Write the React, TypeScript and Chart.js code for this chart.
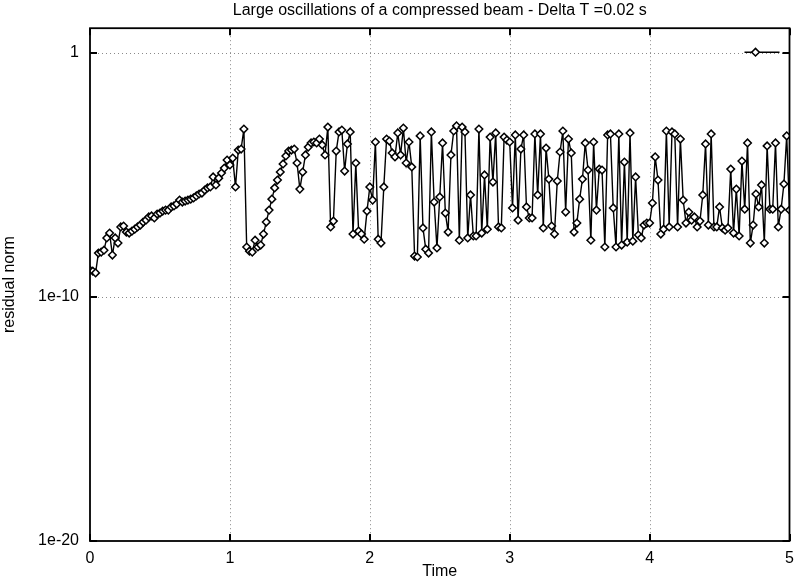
import React, { useEffect, useRef } from "react";
import { Chart, registerables } from "chart.js";

Chart.register(...registerables);

const chartTitle = "Large oscillations of a compressed beam - Delta T =0.02 s";
const xAxisTitle = "Time";
const yAxisTitle = "residual norm";
const deltaT = 0.02;
const xTickValues = [0, 1, 2, 3, 4, 5];
const yTickValues = [1e-20, 1e-10, 1];
const yTickLabels = ["1e-20", "1e-10", "1"];

// log10 of the residual norm at each time step (t = i * deltaT)
const logResidual = [
  -8.91, -8.95, -9.02, -8.21, -8.17, -8.09, -7.59, -7.39, -8.29, -7.59,
  -7.80, -7.14, -7.10, -7.35, -7.39, -7.31, -7.23, -7.14, -7.06, -6.94,
  -6.86, -6.73, -6.69, -6.77, -6.61, -6.57, -6.49, -6.45, -6.45, -6.32,
  -6.28, -6.20, -6.04, -6.12, -6.08, -6.04, -6.00, -5.95, -5.87, -5.79,
  -5.75, -5.63, -5.54, -5.50, -5.09, -5.42, -5.14, -4.93, -4.73, -4.40,
  -4.60, -4.32, -5.50, -3.99, -3.95, -3.13, -7.96, -8.13, -8.17, -7.68,
  -7.96, -7.88, -7.43, -6.94, -6.45, -6.00, -5.54, -5.22, -4.89, -4.56,
  -4.23, -4.03, -3.99, -3.95, -4.52, -5.59, -4.89, -4.19, -3.87, -3.70,
  -3.66, -3.70, -3.54, -3.78, -4.19, -3.05, -7.14, -6.90, -4.03, -3.25,
  -3.17, -4.85, -3.74, -3.25, -7.43, -4.52, -7.31, -7.43, -7.64, -6.49,
  -5.50, -6.04, -3.66, -7.64, -7.80, -5.50, -3.54, -3.62, -4.11, -4.27,
  -3.29, -4.19, -3.09, -4.52, -3.66, -4.68, -8.33, -8.37, -3.41, -7.18,
  -8.05, -8.21, -3.25, -6.12, -8.00, -5.91, -3.70, -6.57, -7.35, -4.19,
  -3.21, -3.00, -7.68, -3.05, -3.25, -7.59, -5.83, -7.51, -7.51, -3.13,
  -7.39, -5.01, -7.23, -3.46, -5.30, -3.29, -7.14, -7.18, -3.46, -3.58,
  -3.66, -6.36, -3.37, -6.86, -3.95, -3.37, -6.32, -6.77, -6.77, -3.33,
  -5.83, -3.33, -7.18, -3.91, -5.18, -7.10, -7.43, -5.26, -4.07, -3.21,
  -6.53, -3.54, -4.11, -7.35, -6.98, -6.00, -5.18, -3.70, -4.81, -7.68,
  -3.66, -6.45, -4.77, -4.81, -7.96, -3.37, -3.33, -6.36, -7.96, -3.33,
  -7.88, -4.48, -7.76, -3.29, -7.72, -5.09, -7.47, -7.59, -7.06, -6.98,
  -6.98, -6.16, -4.27, -5.22, -7.43, -7.23, -3.21, -7.14, -3.25, -3.33,
  -7.14, -3.54, -6.04, -6.98, -6.53, -6.86, -6.73, -7.14, -6.90, -5.83,
  -3.74, -7.06, -3.33, -7.14, -7.14, -6.32, -7.18, -7.27, -7.18, -4.77,
  -7.39, -5.59, -7.51, -4.44, -6.41, -3.70, -7.80, -7.06, -5.79, -6.32,
  -5.42, -7.80, -3.82, -6.41, -6.41, -3.70, -7.14, -6.41, -5.38, -3.41,
  -6.45,
];

const FONT = "'Liberation Sans', Arial, Helvetica, sans-serif";

function drawDiamond(ctx: CanvasRenderingContext2D, x: number, y: number, r: number) {
  ctx.beginPath();
  ctx.moveTo(x, y - r);
  ctx.lineTo(x + r, y);
  ctx.lineTo(x, y + r);
  ctx.lineTo(x - r, y);
  ctx.closePath();
  ctx.fillStyle = "#fff";
  ctx.fill();
  ctx.strokeStyle = "#000";
  ctx.lineWidth = 1.5;
  ctx.stroke();
}

const framePlugin = {
  id: "gnuplotFrame",
  beforeDatasetsDraw(chart: any) {
    const { ctx, chartArea } = chart;
    const { left, right, top, bottom } = chartArea;
    const xs = chart.scales.x;
    const ys = chart.scales.y;
    ctx.save();
    ctx.strokeStyle = "#8a8a8a";
    ctx.lineWidth = 1;
    ctx.setLineDash([1, 3]);
    xTickValues.forEach((v) => {
      const px = Math.round(xs.getPixelForValue(v)) + 0.5;
      if (px <= left + 2 || px >= right - 2) return;
      ctx.beginPath();
      ctx.moveTo(px, top);
      ctx.lineTo(px, bottom);
      ctx.stroke();
    });
    yTickValues.forEach((v) => {
      const py = Math.round(ys.getPixelForValue(v)) + 0.5;
      if (py <= top + 2 || py >= bottom - 2) return;
      ctx.beginPath();
      ctx.moveTo(left, py);
      ctx.lineTo(right, py);
      ctx.stroke();
    });
    ctx.restore();
  },
  afterDatasetsDraw(chart: any) {
    const { ctx, chartArea } = chart;
    const { left, right, top, bottom } = chartArea;
    const xs = chart.scales.x;
    const ys = chart.scales.y;
    ctx.save();
    ctx.setLineDash([]);
    ctx.strokeStyle = "#000";
    ctx.lineWidth = 2;
    const tl = 7;
    xTickValues.forEach((v) => {
      const px = Math.round(xs.getPixelForValue(v));
      ctx.beginPath();
      ctx.moveTo(px, bottom);
      ctx.lineTo(px, bottom - tl);
      ctx.moveTo(px, top);
      ctx.lineTo(px, top + tl);
      ctx.stroke();
    });
    yTickValues.forEach((v) => {
      const py = Math.round(ys.getPixelForValue(v));
      ctx.beginPath();
      ctx.moveTo(left, py);
      ctx.lineTo(left + tl, py);
      ctx.moveTo(right, py);
      ctx.lineTo(right - tl, py);
      ctx.stroke();
    });
    // frame
    ctx.lineWidth = 1.8;
    ctx.strokeRect(left, top, right - left, bottom - top);
    // key sample (gnuplot legend, no text)
    const ky = top + 24;
    ctx.lineWidth = 1.4;
    ctx.beginPath();
    ctx.moveTo(right - 45, ky);
    ctx.lineTo(right - 10, ky);
    ctx.stroke();
    drawDiamond(ctx, right - 34, ky, 3.8);
    ctx.restore();
  },
};

export default function App() {
  const canvasRef = useRef<HTMLCanvasElement | null>(null);

  useEffect(() => {
    if (!canvasRef.current) return;
    const points = logResidual.map((e, i) => ({ x: i * deltaT, y: Math.pow(10, e) }));
    const chart = new Chart(canvasRef.current, {
      type: "line",
      data: {
        datasets: [
          {
            data: points,
            borderColor: "#000",
            borderWidth: 1.4,
            tension: 0,
            pointStyle: "rectRot",
            pointRadius: 3.8,
            pointBackgroundColor: "#fff",
            pointBorderColor: "#000",
            pointBorderWidth: 1.5,
          },
        ],
      },
      options: {
        animation: false,
        responsive: false,
        maintainAspectRatio: false,
        layout: { padding: { left: 0, right: 3, top: 0, bottom: 0 } },
        plugins: {
          legend: { display: false },
          tooltip: { enabled: false },
          title: {
            display: true,
            text: chartTitle,
            fullSize: false,
            color: "#000",
            font: { family: FONT, size: 16, weight: "normal", lineHeight: 1.2 },
            padding: { top: 1, bottom: 8 },
          },
        },
        scales: {
          x: {
            type: "linear",
            min: 0,
            max: 5,
            afterBuildTicks: (scale: any) => {
              scale.ticks = xTickValues.map((v) => ({ value: v }));
            },
            afterFit: (scale: any) => {
              scale.height = 40;
              scale.paddingLeft = 0;
              scale.paddingRight = 0;
            },
            grid: { display: false },
            border: { display: false },
            ticks: {
              color: "#000",
              padding: 0,
              maxRotation: 0,
              font: { family: FONT, size: 16, lineHeight: 1.2 },
              callback: (v: any) => String(v),
            },
            title: {
              display: true,
              text: xAxisTitle,
              color: "#000",
              font: { family: FONT, size: 16, lineHeight: 1.2 },
              padding: { top: 0, bottom: 0 },
            },
          },
          y: {
            type: "logarithmic",
            min: 1e-20,
            max: 10,
            afterBuildTicks: (scale: any) => {
              scale.ticks = yTickValues.map((v) => ({ value: v }));
            },
            afterFit: (scale: any) => {
              scale.width = 90;
              scale.paddingTop = 0;
              scale.paddingBottom = 0;
            },
            grid: { display: false },
            border: { display: false },
            ticks: {
              color: "#000",
              padding: 3,
              font: { family: FONT, size: 16, lineHeight: 1.2 },
              callback: (v: any) => {
                const idx = yTickValues.findIndex((t) => Math.abs(Math.log10(t) - Math.log10(Number(v))) < 1e-6);
                return idx >= 0 ? yTickLabels[idx] : "";
              },
            },
            title: {
              display: true,
              text: yAxisTitle,
              color: "#000",
              font: { family: FONT, size: 16, lineHeight: 1.2 },
              padding: { top: 0, bottom: 0 },
            },
          },
        },
      },
      plugins: [framePlugin],
    } as any);
    return () => chart.destroy();
  }, []);

  return (
    <div style={{ position: "fixed", left: 0, top: 0, width: 795, height: 581, background: "#fff" }}>
      <canvas ref={canvasRef} width={795} height={581} style={{ display: "block", width: 795, height: 581 }} />
    </div>
  );
}
